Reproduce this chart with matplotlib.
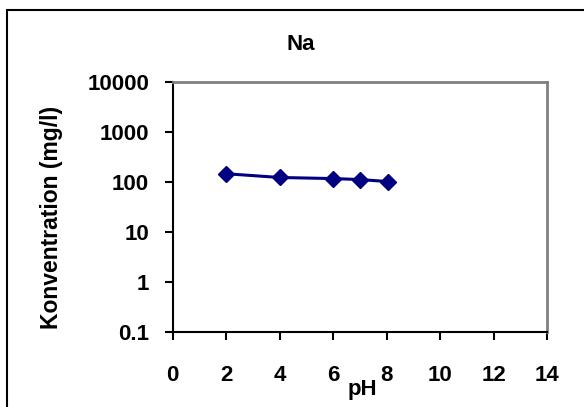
import numpy as np
import matplotlib.pyplot as plt
from matplotlib.patches import Rectangle

plt.rcParams['font.family'] = ['Liberation Sans', 'DejaVu Sans']
plt.rcParams['font.weight'] = 'bold'

# Données
ph = [2, 4, 6, 7, 8.05]
konz = [145, 122, 116, 111, 101]
x_ticks = [0, 2, 4, 6, 8, 10, 12, 14]
y_ticks = [0.1, 1, 10, 100, 1000, 10000]
y_labels = ['0.1', '1', '10', '100', '1000', '10000']

W, H = 584, 407
fig = plt.figure(figsize=(W / 100, H / 100), dpi=100)
ax = fig.add_axes([172.7 / W, 1 - 331.5 / H, (547.3 - 172.7) / W, (331.5 - 82) / H])

ax.plot(ph, konz, color='#000080', lw=2.2, marker='D', ms=8.5, mec='#000080', mfc='#000080')
ax.set_yscale('log')
ax.set_xlim(0, 14)
ax.set_ylim(0.1, 10000)
ax.set_xticks(x_ticks)
ax.set_xticklabels([str(t) for t in x_ticks])
ax.set_yticks(y_ticks)
ax.set_yticklabels(y_labels)
ax.minorticks_off()
ax.tick_params(axis='x', length=6, width=1.5, direction='out', pad=18, labelsize=16)
ax.tick_params(axis='y', length=6, width=1.5, direction='out', pad=11, labelsize=16)

for s in ['left', 'bottom']:
    ax.spines[s].set_color('black')
    ax.spines[s].set_linewidth(1.5)
for s in ['top', 'right']:
    ax.spines[s].set_color('#808080')
    ax.spines[s].set_linewidth(2)

fig.text(300.5 / W, 1 - 44 / H, 'Na', ha='center', va='center', fontsize=16, fontweight='bold')
fig.text(362.5 / W, 1 - 389 / H, 'pH', ha='center', va='center', fontsize=16, fontweight='bold')
fig.text(52 / W, 1 - 217 / H, 'Konventration (mg/l)', ha='center', va='center',
         rotation=90, fontsize=16.5, fontweight='bold')

# cadre extérieur
fig.patches.append(Rectangle((7 / W, -0.1), 1.2, 1 - 10 / H + 0.1, transform=fig.transFigure,
                             fill=False, ec='black', lw=1.5))

fig.savefig('out.png', dpi=100)
